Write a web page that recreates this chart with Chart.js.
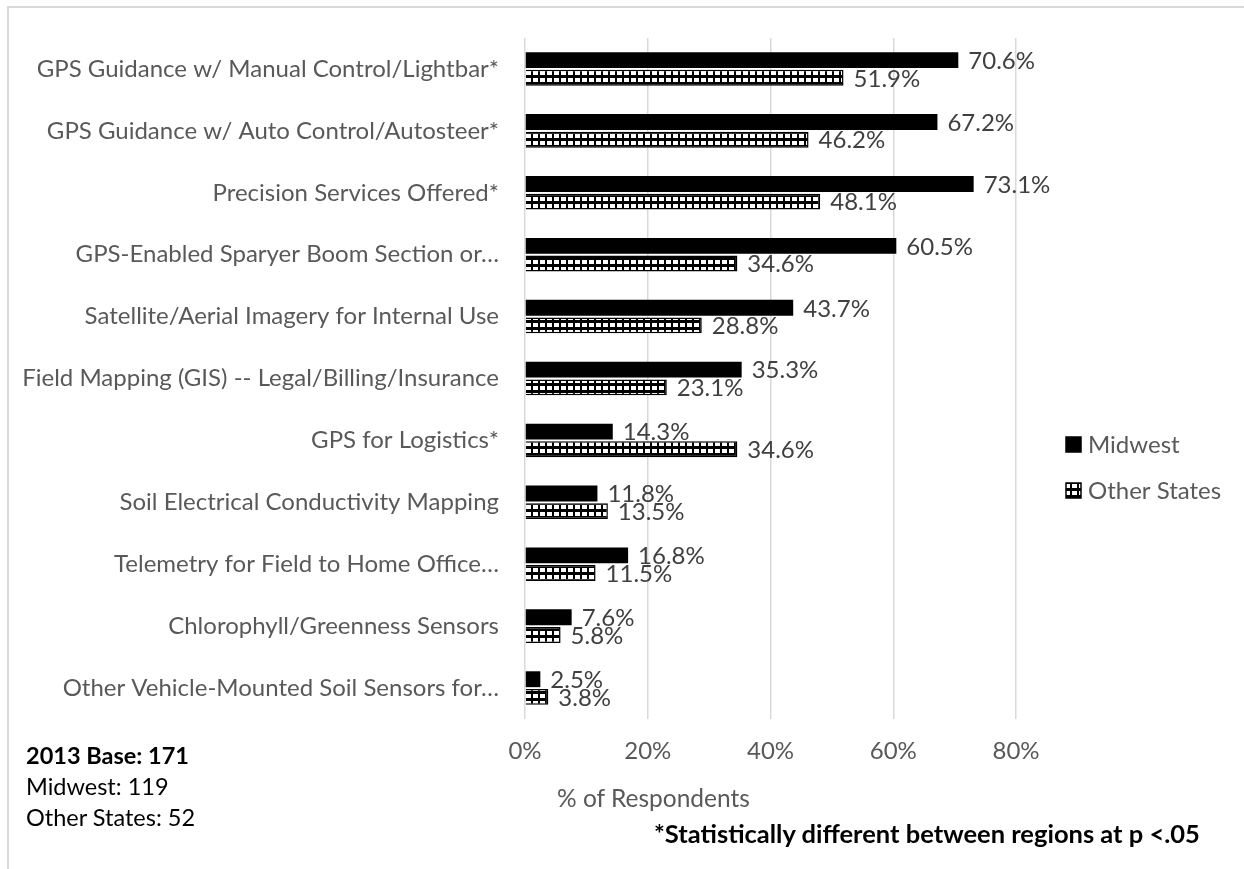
<!DOCTYPE html>
<html>
<head>
<meta charset="utf-8">
<script src="https://cdn.jsdelivr.net/npm/chart.js@4.4.1/dist/chart.umd.min.js"></script>
<style>
  html, body { margin: 0; padding: 0; background: #fff; }
  #wrap { position: relative; width: 1244px; height: 869px; overflow: hidden; font-family: Lato, "Open Sans", sans-serif; }
  #frame { position: absolute; left: 7px; top: 6px; right: -10px; bottom: -10px; border-top: 2px solid #d9d9d9; border-left: 2px solid #d9d9d9; }
  #chart { position: absolute; left: 0; top: 0; }
  .note { position: absolute; color: #000; font-size: 23.5px; line-height: 31px; white-space: nowrap; }
  #axisTitle { position: absolute; left: 557px; top: 783px; color: #595959; font-size: 24.5px; white-space: nowrap; }
</style>
</head>
<body>
<div id="wrap">
  <div id="frame"></div>
  <canvas id="chart" width="1244" height="869"></canvas>
  <div id="axisTitle">% of Respondents</div>
  <div class="note" style="left:26px; top:740px;"><b>2013 Base: 171</b><br>Midwest: 119<br>Other States: 52</div>
  <div class="note" style="left:654px; top:818px; font-size:25.5px; font-weight:bold;">*Statistically different between regions at p &lt;.05</div>
</div>
<script>
// precision technology use by region, share of respondents
const categories = [
  "GPS Guidance w/ Manual Control/Lightbar*",
  "GPS Guidance w/ Auto Control/Autosteer*",
  "Precision Services Offered*",
  "GPS-Enabled Sparyer Boom Section or…",
  "Satellite/Aerial Imagery for Internal Use",
  "Field Mapping (GIS) -- Legal/Billing/Insurance",
  "GPS for Logistics*",
  "Soil Electrical Conductivity Mapping",
  "Telemetry for Field to Home Office…",
  "Chlorophyll/Greenness Sensors",
  "Other Vehicle-Mounted Soil Sensors for…"
];
const midwest = [70.6, 67.2, 73.1, 60.5, 43.7, 35.3, 14.3, 11.8, 16.8, 7.6, 2.5];
const otherStates = [51.9, 46.2, 48.1, 34.6, 28.8, 23.1, 34.6, 13.5, 11.5, 5.8, 3.8];
const xTicks = [0, 20, 40, 60, 80];

const FONT = 'Lato, "Open Sans", sans-serif';
const GREY = '#595959';

// small black grid with white cells, like the Excel "large grid" fill
function gridPattern() {
  const c = document.createElement('canvas');
  c.width = 7; c.height = 7;
  const g = c.getContext('2d');
  g.fillStyle = '#000';
  g.fillRect(0, 0, 7, 7);
  g.fillStyle = '#fff';
  g.fillRect(1, 1, 5, 4);
  return g.createPattern(c, 'repeat');
}

const ctx = document.getElementById('chart').getContext('2d');
const hatch = gridPattern();

// value labels at the end of every bar
const valueLabels = {
  id: 'valueLabels',
  afterDatasetsDraw(chart) {
    const c = chart.ctx;
    c.save();
    c.font = '24px ' + FONT;
    c.fillStyle = '#404040';
    c.textAlign = 'left';
    c.textBaseline = 'middle';
    chart.data.datasets.forEach((ds, i) => {
      chart.getDatasetMeta(i).data.forEach((bar, j) => {
        c.fillText(ds.data[j].toFixed(1) + '%', bar.x + 10, bar.y + 1);
      });
    });
    c.restore();
  }
};

// legend on the right, one entry per dataset
const sideLegend = {
  id: 'sideLegend',
  afterDraw(chart) {
    const c = chart.ctx;
    c.save();
    c.font = '24px ' + FONT;
    c.textAlign = 'left';
    c.textBaseline = 'middle';
    chart.data.datasets.forEach((ds, i) => {
      const y = 444 + i * 46;
      c.fillStyle = ds.backgroundColor;
      c.fillRect(1066, y - 7, 15, 15);
      c.strokeStyle = '#000';
      c.lineWidth = 1.5;
      c.strokeRect(1066, y - 7, 15, 15);
      c.fillStyle = GREY;
      c.fillText(ds.label, 1088, y + 1);
    });
    c.restore();
  }
};

new Chart(ctx, {
  type: 'bar',
  data: {
    labels: categories,
    datasets: [
      {
        label: 'Midwest',
        data: midwest,
        backgroundColor: '#000',
        borderWidth: 0
      },
      {
        label: 'Other States',
        data: otherStates,
        backgroundColor: hatch,
        borderColor: '#000',
        borderWidth: 1.5
      }
    ]
  },
  options: {
    indexAxis: 'y',
    responsive: false,
    animation: false,
    categoryPercentage: 0.57,
    barPercentage: 0.9,
    layout: { padding: { left: 0, top: 38, right: 228, bottom: 0 } },
    plugins: {
      legend: { display: false },
      tooltip: { enabled: false }
    },
    scales: {
      x: {
        min: 0,
        max: 80,
        afterBuildTicks: s => { s.ticks = xTicks.map(v => ({ value: v })); },
        afterFit: s => { s.height = 150; },
        ticks: {
          callback: v => v + '%',
          color: GREY,
          font: { family: FONT, size: 24 },
          padding: 18
        },
        grid: { color: '#d9d9d9', lineWidth: 1.5, drawTicks: false },
        border: { display: false }
      },
      y: {
        afterFit: s => { s.width = 525; },
        ticks: {
          color: GREY,
          font: { family: FONT, size: 24 },
          padding: 18
        },
        grid: { display: false },
        border: { display: false }
      }
    }
  },
  plugins: [valueLabels, sideLegend]
});
</script>
</body>
</html>
